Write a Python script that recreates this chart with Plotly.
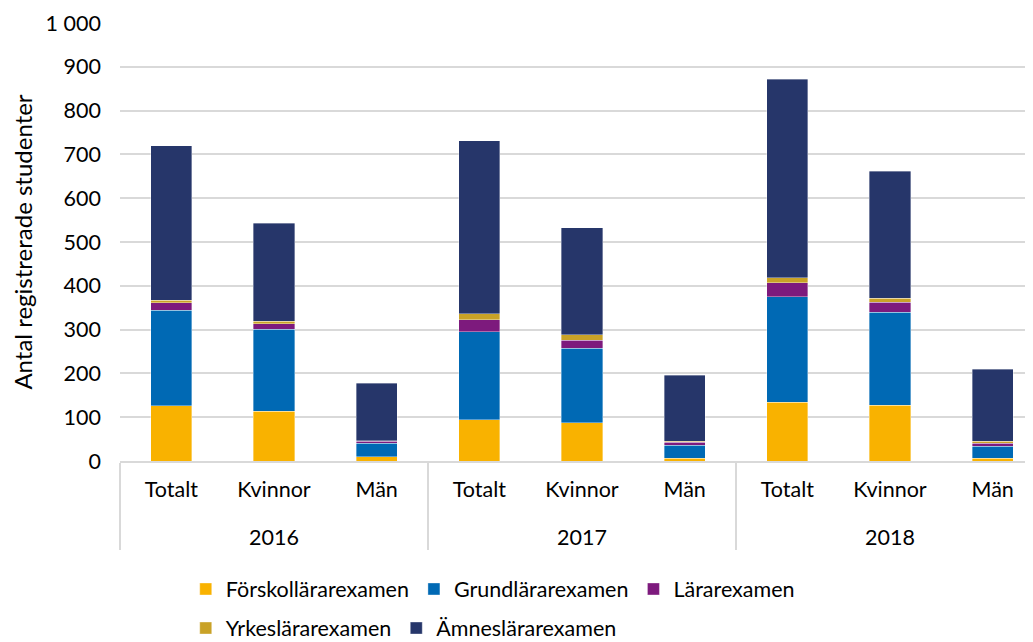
import plotly.graph_objects as go

years = ["2016", "2016", "2016", "2017", "2017", "2017", "2018", "2018", "2018"]
groups = ["Totalt", "Kvinnor", "Män"] * 3

forskollarare = [126, 114, 10, 94, 87, 6, 134, 127, 6]
grundlarare = [218, 187, 30, 201, 170, 30, 241, 213, 28]
lararexamen = [17, 12, 5, 28, 19, 7, 32, 23, 7]
yrkeslarare = [6, 6, 1, 13, 12, 2, 11, 9, 4]
amneslarare = [353, 224, 131, 395, 244, 151, 454, 289, 164]

series_names = ["Förskollärarexamen", "Grundlärarexamen", "Lärarexamen",
                "Yrkeslärarexamen", "Ämneslärarexamen"]
series_values = [forskollarare, grundlarare, lararexamen, yrkeslarare, amneslarare]
colors = ["#F9B200", "#0069B4", "#7D1A7D", "#C9A227", "#26366A"]
legend_rows = ["legend", "legend", "legend", "legend2", "legend2"]

y_ticks = [0, 100, 200, 300, 400, 500, 600, 700, 800, 900, 1000]
y_ticktext = ["0", "100", "200", "300", "400", "500", "600", "700", "800", "900", "1 000"]

FONT = "Lato"
FS = 21.5

# year labels shown one line lower (blank first line) to mimic Excel's spacing
year_labels = ["<br>" + y for y in years]

fig = go.Figure()
for name, vals, col, lg in zip(series_names, series_values, colors, legend_rows):
    fig.add_trace(go.Bar(
        x=[year_labels, groups], y=vals, name=name, legend=lg,
        marker=dict(color=col, line=dict(color="rgba(255,255,255,0.6)", width=0.6)),
    ))

legend_common = dict(orientation="h", xanchor="left", yanchor="middle",
                     xref="container", yref="container", traceorder="normal",
                     font=dict(family=FONT, size=FS), itemwidth=30,
                     bgcolor="rgba(0,0,0,0)")

# the page body adds an 8px offset, so the figure is 8px smaller each way
fig.update_layout(
    barmode="stack",
    bargap=0.6,
    width=1025, height=634,
    margin=dict(l=112, r=0, t=15, b=181),
    plot_bgcolor="white", paper_bgcolor="white",
    font=dict(family=FONT, size=FS, color="#000000"),
    legend=dict(x=0.1734, y=0.0836, **legend_common),
    legend2=dict(x=0.1734, y=0.022, **legend_common),
)
fig.update_yaxes(
    range=[0, 1000], tickvals=y_ticks, ticktext=y_ticktext,
    showgrid=True, gridcolor="#D9D9D9", gridwidth=1.5,
    zeroline=False, showline=False, ticks="", ticklen=0,
    ticklabelstandoff=18, automargin=False,
    title=dict(text="Antal registrerade studenter", font=dict(family=FONT, size=24), standoff=10),
    tickfont=dict(family=FONT, size=FS),
)
fig.update_xaxes(
    type="multicategory",
    range=[-0.5, 8.393],
    showline=True, linecolor="#D9D9D9", linewidth=1.5,
    showdividers=True, dividercolor="#D9D9D9", dividerwidth=1.5,
    tickfont=dict(family=FONT, size=FS),
    ticks="", ticklabelstandoff=8, automargin=False,
)

fig.write_html("out.html")
